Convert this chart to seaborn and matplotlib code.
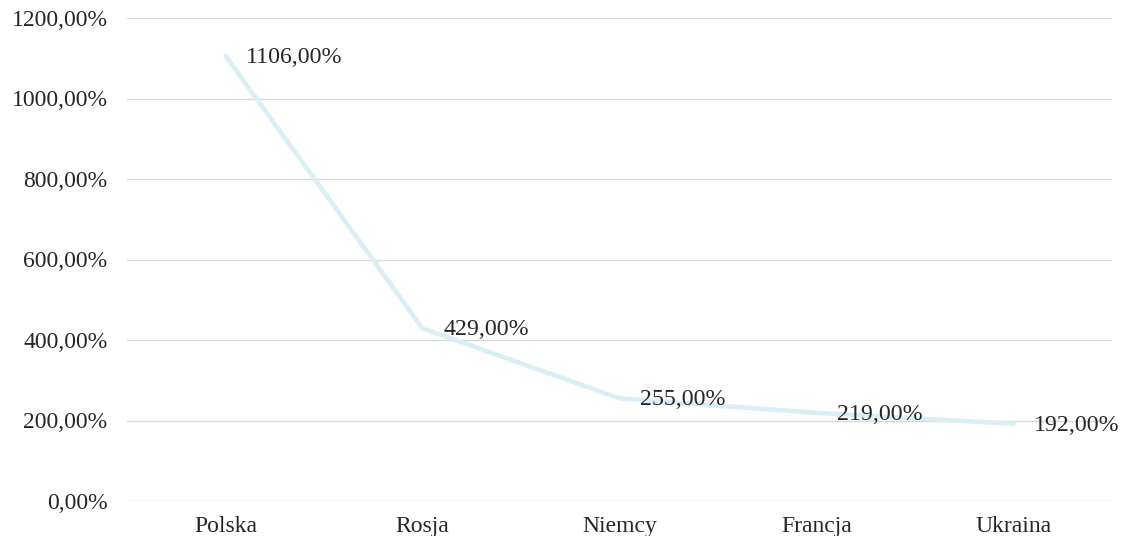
import matplotlib
matplotlib.use("Agg")
import matplotlib.pyplot as plt
import seaborn as sns
import pandas as pd
from matplotlib.ticker import FuncFormatter, MultipleLocator

countries = ["Polska", "Rosja", "Niemcy", "Francja", "Ukraina"]
values = [1106, 429, 255, 219, 192]
value_labels = ["1106,00%", "429,00%", "255,00%", "219,00%", "192,00%"]

sns.set_theme(style="white")
plt.rcParams["font.family"] = ["Liberation Serif", "DejaVu Serif"]

df = pd.DataFrame({"kraj": countries, "wartosc": values})
df["pos"] = range(len(df))

fig = plt.figure(figsize=(11.29, 5.36), dpi=100)
ax = fig.add_axes([127 / 1129, 1 - 501 / 536, (1112 - 127) / 1129, (501 - 18) / 536])

sns.lineplot(data=df, x="pos", y="wartosc", ax=ax, color="#DAEEF6",
             linewidth=3.3, solid_joinstyle="miter", zorder=3)

for x, y, lab in zip(df["pos"], df["wartosc"], value_labels):
    ax.annotate(lab, (x, y), xytext=(15, -1), textcoords="offset points",
                ha="left", va="center", fontsize=17.2, color="#262626", zorder=4)

ax.set_xlim(-0.5, len(countries) - 0.5)
ax.set_ylim(0, 1200)
ax.yaxis.set_major_locator(MultipleLocator(200))
ax.yaxis.set_major_formatter(FuncFormatter(lambda v, p: f"{v:.2f}".replace(".", ",") + "%"))
ax.set_xticks(range(len(countries)))
ax.set_xticklabels(countries)
ax.grid(axis="y", color="#D9D9D9", linewidth=1.0)
ax.grid(axis="x", visible=False)
for s in ax.spines.values():
    s.set_visible(False)
ax.tick_params(axis="both", length=0, labelsize=17, labelcolor="#262626")
ax.tick_params(axis="y", pad=14)
ax.tick_params(axis="x", pad=11)
ax.set_xlabel("")
ax.set_ylabel("")

fig.savefig("out.png", dpi=100, facecolor="white")
